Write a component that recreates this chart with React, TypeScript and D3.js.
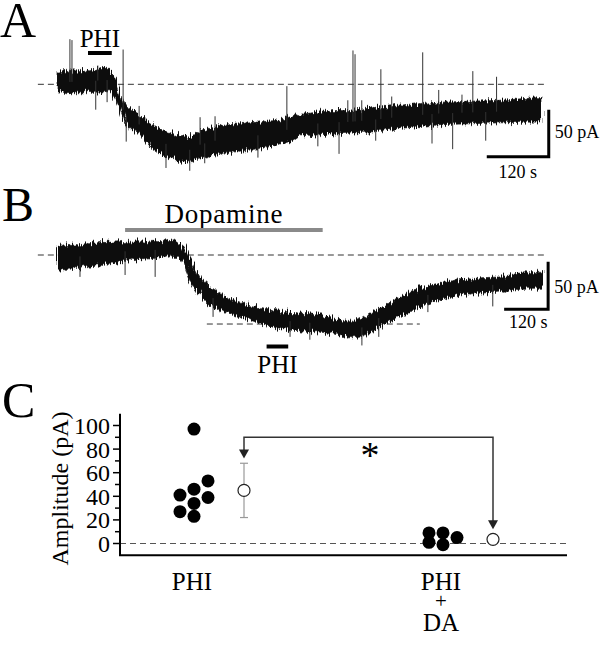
import React from "react";
import * as d3 from "d3";

// ---------- Panel A: whole-cell current trace (time in s, current in pA) ----------
const traceA_time = [0, 25, 54, 93, 103, 112, 122, 132, 161, 180, 209, 236, 256, 275, 313, 373, 432, 470, 528, 567, 625, 664, 741, 857, 937];
const traceA_upper = [13, 14, 15, 17, 17, 5, -11, -23, -33, -42, -50, -54, -56, -50, -44, -41, -38, -32, -28, -28, -24, -22, -19, -17, -14];
const traceA_lower = [-8, -9, -9, -8, -8, -15, -27, -42, -54, -67, -76, -81, -84, -79, -74, -70, -64, -55, -53, -52, -50, -47, -43, -41, -40];
const upSpikesA_t = [25, 29, 79, 128, 159, 277, 306, 445, 563, 573, 577, 590, 627, 648, 708, 739, 784, 805, 851];
const upSpikesA_v = [48, 47, 20, 37, -23, -35, -34, -2, -17, 36, 32, -17, 16, -13, 34, -6, -11, 14, 8];
const downSpikesA_t = [75, 97, 134, 211, 257, 286, 389, 505, 546, 617, 726, 766, 830];
const downSpikesA_v = [-27, -19, -61, -89, -92, -84, -78, -66, -74, -60, -63, -69, -60];
const phiA = [60, 106];

// ---------- Panel B ----------
const traceB_time = [0, 60, 115, 169, 224, 278, 319, 341, 360, 387, 415, 455, 524, 578, 633, 715, 769, 796, 837, 878, 933, 987, 1042, 1096, 1151, 1205, 1260, 1323];
const traceB_upper = [9, 11, 13, 14, 15, 14, 16, 9, -5, -23, -33, -44, -53, -58, -60, -63, -68, -70, -65, -56, -44, -35, -29, -26, -24, -23, -19, -18];
const traceB_lower = [-16, -14, -11, -7, -5, -3, 0, -8, -26, -42, -54, -61, -68, -75, -79, -81, -84, -87, -86, -75, -65, -54, -47, -42, -40, -39, -35, -35];
const downSpikesB_t = [60, 183, 265, 423, 633, 687, 829, 875, 1009, 1186];
const downSpikesB_v = [-23, -21, -23, -65, -86, -89, -95, -86, -60, -54];
const dopamineB = [183, 722];
const phiB = [569, 628];
const plateauB = { start: 406, end: 987, level: -72.5 };

// ---------- Panel C ----------
const groups = ["PHI", "PHI+DA"];
const phiValues = [97, 53, 46, 41, 39, 34, 27, 23];
const phiSlots = [0, 1, 0, -1, 1, 0, -1, 0];
const daValues = [9, 9, 5, 1, -1];
const daSlots = [-1, 0, 1, -1, 0];
const means = [45, 3.5];
const sds = [23, 1.5];
const yTicks = [0, 20, 40, 60, 80, 100];
const yMinorTicks = [10, 30, 50, 70, 90];

const FONT = "'Liberation Serif', 'Times New Roman', Times, serif";

function Trace({ time, upper, lower, x, y }) {
  const area = d3
    .area<number>()
    .x((_, i) => x(time[i]))
    .y0((_, i) => y(lower[i]))
    .y1((_, i) => y(upper[i]));
  return (
    <g filter="url(#rough)">
      <path d={area(time) || ""} fill="#111" stroke="#111" strokeWidth={0.6} />
    </g>
  );
}

function Spikes({ ts, vs, time, upper, lower, x, y }) {
  const up = d3.scaleLinear().domain(time).range(upper);
  const lo = d3.scaleLinear().domain(time).range(lower);
  return (
    <g stroke="#333" strokeWidth={1}>
      {ts.map((t, i) => (
        <line key={i} x1={x(t)} x2={x(t)} y1={y((up(t) + lo(t)) / 2)} y2={y(vs[i])} />
      ))}
    </g>
  );
}

export default function App() {
  const xA = d3.scaleLinear().domain([0, 937]).range([57, 541]);
  const yA = d3.scaleLinear().domain([0, -50]).range([84.3, 131.3]);
  const xB = d3.scaleLinear().domain([0, 1323]).range([58, 543]);
  const yB = d3.scaleLinear().domain([0, -50]).range([255, 302.6]);
  const yC = d3.scaleLinear().domain([-10, 110]).range([555.3, 413.7]);
  const xC = d3.scalePoint<string>().domain(groups).range([194, 443]);
  const slotW = 14;
  const meanOff = 50;
  const r = 6.5;

  const xPhi = xC("PHI")!;
  const xDa = xC("PHI+DA")!;
  const mPhiX = xPhi + meanOff;
  const mDaX = xDa + meanOff;
  const bracketY = yC(90);

  return (
    <svg
      width={600}
      height={645}
      style={{ position: "absolute", left: 0, top: 0, background: "#fff" }}
      fontFamily={FONT}
    >
      <defs>
        <filter id="rough" x="-5%" y="-40%" width="110%" height="180%">
          <feTurbulence type="fractalNoise" baseFrequency="0.8 0.04" numOctaves={2} seed={4} result="n" />
          <feDisplacementMap in="SourceGraphic" in2="n" scale={12} xChannelSelector="R" yChannelSelector="G" />
        </filter>
      </defs>
      <rect width={600} height={645} fill="#fff" />
      {/* ---------- A ---------- */}
      <text x={0} y={37} fontSize={50}>A</text>
      <text x={(xA(phiA[0]) + xA(phiA[1])) / 2} y={47} fontSize={25} textAnchor="middle">PHI</text>
      <line x1={xA(phiA[0])} x2={xA(phiA[1])} y1={53} y2={53} stroke="#000" strokeWidth={4} />
      <line x1={xA(-37)} x2={xA(948)} y1={yA(0)} y2={yA(0)} stroke="#333" strokeWidth={1} strokeDasharray="6,4" />
      <Trace time={traceA_time} upper={traceA_upper} lower={traceA_lower} x={xA} y={yA} />
      <Spikes ts={upSpikesA_t} vs={upSpikesA_v} time={traceA_time} upper={traceA_upper} lower={traceA_lower} x={xA} y={yA} />
      <Spikes ts={downSpikesA_t} vs={downSpikesA_v} time={traceA_time} upper={traceA_upper} lower={traceA_lower} x={xA} y={yA} />
      <path
        d={`M${xA(952)},${yA(-27)} L${xA(952)},${yA(-77)} L${xA(832)},${yA(-77)}`}
        fill="none"
        stroke="#000"
        strokeWidth={3}
      />
      <text x={xA(952) + 6} y={yA(-27) + 28} fontSize={18}>50 pA</text>
      <text x={(xA(952) + xA(832)) / 2} y={178} fontSize={18} textAnchor="middle">120 s</text>

      {/* ---------- B ---------- */}
      <text x={2} y={221} fontSize={48}>B</text>
      <text x={(xB(dopamineB[0]) + xB(dopamineB[1])) / 2} y={222.5} fontSize={27} textAnchor="middle" letterSpacing={0.8}>Dopamine</text>
      <line x1={xB(dopamineB[0])} x2={xB(dopamineB[1])} y1={230} y2={230} stroke="#8a8a8a" strokeWidth={4} />
      <line x1={xB(-55)} x2={xB(1333)} y1={yB(0)} y2={yB(0)} stroke="#333" strokeWidth={1} strokeDasharray="6,4" />
      <line
        x1={xB(plateauB.start)}
        x2={xB(plateauB.end)}
        y1={yB(plateauB.level)}
        y2={yB(plateauB.level)}
        stroke="#333"
        strokeWidth={1}
        strokeDasharray="6,4"
      />
      <Trace time={traceB_time} upper={traceB_upper} lower={traceB_lower} x={xB} y={yB} />
      <Spikes ts={downSpikesB_t} vs={downSpikesB_v} time={traceB_time} upper={traceB_upper} lower={traceB_lower} x={xB} y={yB} />
      <line x1={xB(phiB[0])} x2={xB(phiB[1])} y1={346.5} y2={346.5} stroke="#000" strokeWidth={4} />
      <text x={(xB(phiB[0]) + xB(phiB[1])) / 2} y={373} fontSize={25} textAnchor="middle">PHI</text>
      <path
        d={`M${xB(1337)},${yB(-7)} L${xB(1337)},${yB(-57)} L${xB(1217)},${yB(-57)}`}
        fill="none"
        stroke="#000"
        strokeWidth={3}
      />
      <text x={xB(1337) + 6} y={293} fontSize={18}>50 pA</text>
      <text x={(xB(1337) + xB(1217)) / 2 + 2} y={328} fontSize={18} textAnchor="middle">120 s</text>

      {/* ---------- C ---------- */}
      <text x={2} y={417} fontSize={50}>C</text>
      <line x1={120} x2={567} y1={yC(0)} y2={yC(0)} stroke="#555" strokeWidth={1} strokeDasharray="6,4" />
      <line x1={120} x2={120} y1={yC(110)} y2={yC(-10)} stroke="#000" strokeWidth={2} />
      <line x1={119} x2={567} y1={yC(-10)} y2={yC(-10)} stroke="#000" strokeWidth={2} />
      {yTicks.map((t) => (
        <g key={t}>
          <line x1={113} x2={120} y1={yC(t)} y2={yC(t)} stroke="#000" strokeWidth={1.5} />
          <text x={110} y={yC(t)} dy="0.35em" fontSize={24} textAnchor="end">{t}</text>
        </g>
      ))}
      {yMinorTicks.map((t) => (
        <line key={t} x1={115} x2={120} y1={yC(t)} y2={yC(t)} stroke="#000" strokeWidth={1.5} />
      ))}
      <text
        transform={`translate(68,${(yC(110) + yC(-10)) / 2 + 4}) rotate(-90)`}
        fontSize={24}
        textAnchor="middle"
      >
        Amplitude (pA)
      </text>
      <text x={xPhi - 2} y={590} fontSize={25} textAnchor="middle">PHI</text>
      <text x={xDa - 2} y={590} fontSize={25} textAnchor="middle">PHI</text>
      <text x={xDa - 2} y={608} fontSize={21} textAnchor="middle">+</text>
      <text x={xDa - 2} y={631} fontSize={25} textAnchor="middle">DA</text>

      {phiValues.map((v, i) => (
        <circle key={"p" + i} cx={xPhi + phiSlots[i] * slotW} cy={yC(v)} r={r} fill="#000" />
      ))}
      {daValues.map((v, i) => (
        <circle key={"d" + i} cx={xDa + daSlots[i] * slotW} cy={yC(v)} r={r} fill="#000" />
      ))}

      {[mPhiX, mDaX].map((mx, i) => (
        <g key={"m" + i}>
          <line x1={mx} x2={mx} y1={yC(means[i] + sds[i])} y2={yC(means[i] - sds[i])} stroke="#999" strokeWidth={1.2} />
          <line x1={mx - 4} x2={mx + 4} y1={yC(means[i] + sds[i])} y2={yC(means[i] + sds[i])} stroke="#999" strokeWidth={1.2} />
          <line x1={mx - 4} x2={mx + 4} y1={yC(means[i] - sds[i])} y2={yC(means[i] - sds[i])} stroke="#999" strokeWidth={1.2} />
          <circle cx={mx} cy={yC(means[i])} r={r - 0.5} fill="#fff" stroke="#222" strokeWidth={1.2} />
        </g>
      ))}

      <path
        d={`M${mPhiX},${yC(72) - 8} L${mPhiX},${bracketY} L${mDaX},${bracketY} L${mDaX},${yC(12) - 8}`}
        fill="none"
        stroke="#333"
        strokeWidth={1.5}
      />
      <path d={`M${mPhiX - 5},${yC(72) - 9} L${mPhiX + 5},${yC(72) - 9} L${mPhiX},${yC(72)} Z`} fill="#222" />
      <path d={`M${mDaX - 5},${yC(12) - 9} L${mDaX + 5},${yC(12) - 9} L${mDaX},${yC(12)} Z`} fill="#222" />
      <text x={370} y={468} fontSize={38} textAnchor="middle">*</text>
    </svg>
  );
}
